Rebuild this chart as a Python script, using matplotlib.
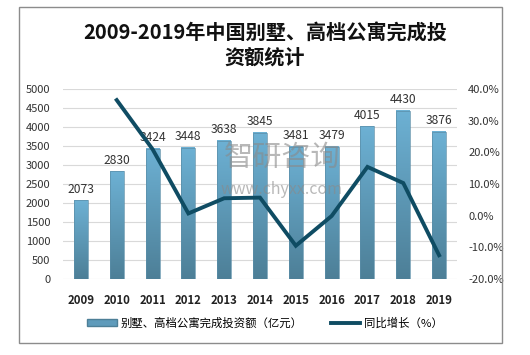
import numpy as np
import matplotlib
matplotlib.use("Agg")
import matplotlib.pyplot as plt
from matplotlib.patches import Rectangle
from matplotlib.colors import LinearSegmentedColormap
from matplotlib.ticker import FuncFormatter

plt.rcParams['font.family'] = ['Noto Sans CJK SC', 'DejaVu Sans']

years = ["2009", "2010", "2011", "2012", "2013", "2014", "2015", "2016", "2017", "2018", "2019"]
invest = [2073, 2830, 3424, 3448, 3638, 3845, 3481, 3479, 4015, 4430, 3876]
growth = [None, 36.5, 21.0, 0.7, 5.5, 5.7, -9.5, -0.1, 15.4, 10.3, -12.5]

title = "2009-2019年中国别墅、高档公寓完成投\n资额统计"
bar_label = "别墅、高档公寓完成投资额（亿元）"
line_label = "同比增长（%）"

fig = plt.figure(figsize=(5.3, 3.55), dpi=100)
W, H = 530, 355

# outer border
fig.patches.append(Rectangle((19 / W, 1 - 343 / H), (502 - 19) / W, (343 - 7) / H,
                             transform=fig.transFigure, fill=False,
                             edgecolor="#8c8c8c", linewidth=1.0))

fig.text(0.5, 1 - 45 / H, title, ha="center", va="center", fontsize=14.5,
         fontweight="bold", color="#111111", linespacing=1.2)

ax = fig.add_axes([63 / W, 1 - 279 / H, (457 - 63) / W, (279 - 89) / H])
x = np.arange(len(years))
width = 0.39

ax.set_xlim(-0.5, len(years) - 0.5)
ax.set_ylim(0, 5000)
ax.set_yticks(range(0, 5001, 500))
ax.yaxis.grid(True, color="#d9d9d9", linewidth=0.8)
ax.set_axisbelow(True)
for s in ax.spines.values():
    s.set_visible(False)
ax.tick_params(length=0, labelsize=8, colors="#333333")
ax.tick_params(axis="y", pad=9)
ax.tick_params(axis="x", pad=11)
ax.set_xticks(x)
ax.set_xticklabels(years, fontweight="bold", fontsize=8.2, color="#222222")

cmap = LinearSegmentedColormap.from_list("bar", ["#4d7f97", "#6db1d4"])
grad = np.linspace(0, 1, 256).reshape(-1, 1)
bars = ax.bar(x, invest, width=width, color="none", edgecolor="#5b8ea8",
              linewidth=0.5, zorder=2)
for b, v in zip(bars, invest):
    x0 = b.get_x()
    ax.imshow(grad, cmap=cmap, origin="lower", aspect="auto",
              extent=[x0, x0 + b.get_width(), 0, v], zorder=1.9)
    ax.text(b.get_x() + b.get_width() / 2, v + 120, str(v), ha="center",
            va="bottom", fontsize=8.7, color="#333333", zorder=3)
ax.set_xlim(-0.5, len(years) - 0.5)
ax.set_ylim(0, 5000)

# watermark
fig.text(282 / W, 1 - 158 / H, "智研咨询", ha="center", va="center", fontsize=21,
         color="#8a8a8a", alpha=0.6, zorder=5)
fig.text(282 / W, 1 - 190 / H, "www.chyxx.com", ha="center", va="center", fontsize=11.5,
         color="#8a8a8a", alpha=0.6, zorder=5)

ax2 = ax.twinx()
ax2.set_ylim(-20, 40)
ax2.set_yticks(range(-20, 41, 10))
ax2.yaxis.set_major_formatter(FuncFormatter(lambda v, p: f"{v:.1f}%"))
for s in ax2.spines.values():
    s.set_visible(False)
ax2.tick_params(length=0, labelsize=8, colors="#333333", pad=8)
gx = [i for i, g in enumerate(growth) if g is not None]
gy = [g for g in growth if g is not None]
line, = ax2.plot(gx, gy, color="#0f4c63", linewidth=2.8, solid_joinstyle="miter")

handles = [Rectangle((0, 0), 1, 1, facecolor="#5f9bbb", edgecolor="#4d7f97"), line]
fig.legend(handles, [bar_label, line_label], loc="center",
           bbox_to_anchor=(0.5, 1 - 323 / H), ncol=2, frameon=False,
           fontsize=8.2, handlelength=2.6, handleheight=0.6, columnspacing=2.5,
           handletextpad=0.3)

fig.savefig("out.png", dpi=100)
